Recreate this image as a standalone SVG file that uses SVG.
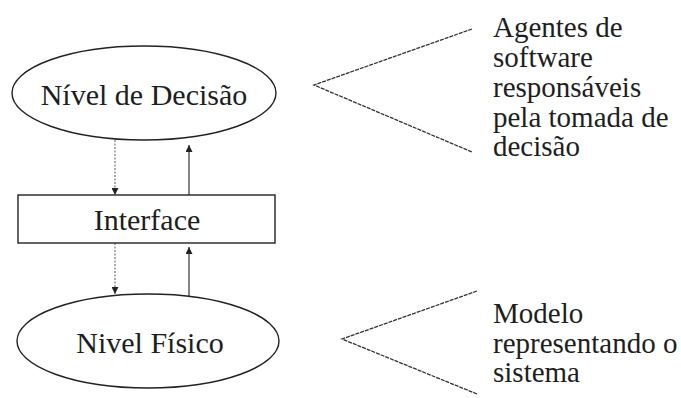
<svg xmlns="http://www.w3.org/2000/svg" width="681" height="398" viewBox="0 0 681 398">
  <defs>
    <marker id="head" viewBox="0 0 10 10" refX="10" refY="5" markerWidth="7" markerHeight="7" orient="auto" markerUnits="userSpaceOnUse">
      <path d="M0,0 L10,5 L0,10 z" fill="#222"/>
    </marker>
    <style>
      .shape { fill: #fff; stroke: #222; stroke-width: 1.4; }
      .label { fill: #1e1e1e; }
      .node-label { font-size: 30px; text-anchor: middle; }
      .note { font-size: 29px; }
      .down { stroke: #777; stroke-width: 1.2; stroke-dasharray: 2 1.5; fill: none; }
      .up { stroke: #333; stroke-width: 1.2; fill: none; }
      .brace { stroke: #333; stroke-width: 1.3; stroke-dasharray: 4 1; fill: none; }
    </style>
  </defs>
  <rect width="681" height="398" fill="#fff"/>

  <!-- vertical flows between the layers -->
  <g id="connectors">
    <line class="down" x1="115" y1="140" x2="115" y2="195" marker-end="url(#head)"/>
    <line class="up" x1="189" y1="195" x2="189" y2="145" marker-end="url(#head)"/>
    <line class="down" x1="115" y1="243" x2="115" y2="294" marker-end="url(#head)"/>
    <line class="up" x1="189" y1="296" x2="189" y2="247" marker-end="url(#head)"/>
  </g>

  <g font-family="'Liberation Serif', 'DejaVu Serif', serif">
    <g id="nivel-decisao">
      <ellipse class="shape" cx="144" cy="93" rx="132" ry="47"/>
      <text class="label node-label" x="144" y="105">Nível de Decisão</text>
    </g>

    <g id="interface">
      <rect class="shape" x="18" y="195" width="257" height="48"/>
      <text class="label node-label" x="147" y="230">Interface</text>
    </g>

    <g id="nivel-fisico">
      <ellipse class="shape" cx="148" cy="341" rx="131" ry="47"/>
      <text class="label node-label" x="150" y="353">Nivel Físico</text>
    </g>

    <!-- annotation braces and notes -->
    <g id="nota-agentes">
      <polyline class="brace" points="472,29 314,85 472,152"/>
      <text class="label note" x="493" y="37">Agentes de</text>
      <text class="label note" x="493" y="67">software</text>
      <text class="label note" x="493" y="97">responsáveis</text>
      <text class="label note" x="493" y="127">pela tomada de</text>
      <text class="label note" x="493" y="156">decisão</text>
    </g>

    <g id="nota-modelo">
      <polyline class="brace" points="477,291 342,339 477,394"/>
      <text class="label note" x="493" y="323">Modelo</text>
      <text class="label note" x="493" y="353">representando o</text>
      <text class="label note" x="493" y="382">sistema</text>
    </g>
  </g>
</svg>
